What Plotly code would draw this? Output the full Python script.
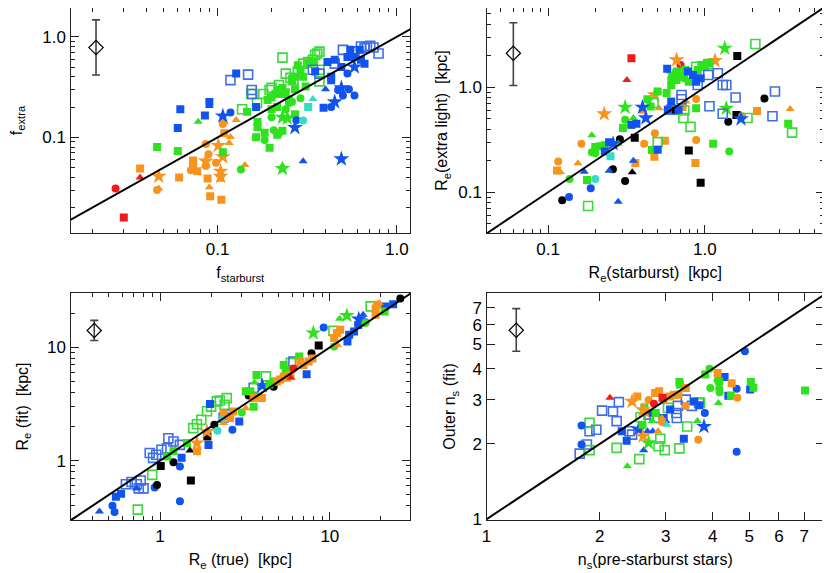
import plotly.graph_objects as go

# ==============================
# DATA
# ==============================

# panel 1: f_starburst vs f_extra
frac_points = {
    "red circle": ([0.027], [0.031]),
    "red triangle": ([0.037], [0.040]),
    "red square": ([0.030], [0.016]),
    "orange circle": ([0.046, 0.071, 0.086, 0.089, 0.086, 0.098, 0.107],
                      [0.030, 0.047, 0.086, 0.068, 0.052, 0.056, 0.136]),
    "orange square": ([0.037, 0.061, 0.073, 0.073, 0.077, 0.088, 0.091, 0.105, 0.109],
                      [0.049, 0.040, 0.059, 0.050, 0.046, 0.039, 0.026, 0.024, 0.11]),
    "orange triangle": ([0.047, 0.090, 0.104, 0.109, 0.127, 0.118, 0.116, 0.142],
                        [0.031, 0.032, 0.038, 0.141, 0.149, 0.101, 0.088, 0.053]),
    "orange star": ([0.047, 0.086, 0.101, 0.107, 0.104, 0.104],
                    [0.041, 0.058, 0.083, 0.064, 0.046, 0.041]),
    "green open": ([0.137, 0.154, 0.166, 0.18, 0.195, 0.2, 0.22, 0.23, 0.24, 0.255,
                    0.265, 0.28, 0.3, 0.32, 0.34, 0.35, 0.36, 0.37, 0.37, 0.37],
                   [0.19, 0.27, 0.22, 0.27, 0.295, 0.31, 0.33, 0.62, 0.43, 0.39,
                    0.37, 0.45, 0.54, 0.56, 0.59, 0.66, 0.68, 0.71, 0.47, 0.36]),
    "green square": ([0.046, 0.060, 0.107, 0.146, 0.164, 0.167, 0.167, 0.183, 0.195, 0.215,
                      0.23, 0.27, 0.19, 0.2, 0.21, 0.22, 0.23, 0.24, 0.25, 0.26,
                      0.27, 0.28, 0.29, 0.3, 0.31, 0.32, 0.34, 0.215, 0.2, 0.23, 0.27],
                     [0.080, 0.073, 0.071, 0.18, 0.10, 0.142, 0.127, 0.111, 0.079, 0.106,
                      0.116, 0.17, 0.235, 0.25, 0.27, 0.295, 0.31, 0.28, 0.235, 0.37,
                      0.4, 0.52, 0.47, 0.4, 0.32, 0.54, 0.56, 0.2, 0.19, 0.27, 0.3]),
    "green circle": ([0.135, 0.183, 0.2, 0.206, 0.22, 0.25, 0.24, 0.26, 0.29],
                     [0.048, 0.094, 0.158, 0.118, 0.11, 0.22, 0.19, 0.226, 0.244]),
    "green triangle": ([0.078, 0.23], [0.143, 0.052]),
    "green star": ([0.23, 0.245, 0.23], [0.158, 0.155, 0.049]),
    "blue open": ([0.118, 0.148, 0.155, 0.156, 0.45, 0.5, 0.58, 0.63, 0.66, 0.68,
                   0.71, 0.74, 0.79, 0.34, 0.37],
                  [0.37, 0.42, 0.295, 0.27, 0.54, 0.74, 0.71, 0.8, 0.77, 0.8,
                   0.81, 0.78, 0.68, 0.47, 0.43]),
    "blue square": ([0.06, 0.062, 0.085, 0.09, 0.127, 0.164, 0.39, 0.41, 0.43, 0.45,
                     0.49, 0.53, 0.55, 0.58, 0.62, 0.63, 0.66, 0.35, 0.43],
                    [0.124, 0.19, 0.165, 0.225, 0.43, 0.2, 0.197, 0.56, 0.4, 0.59,
                     0.5, 0.63, 0.74, 0.63, 0.74, 0.59, 0.54, 0.45, 0.37]),
    "blue circle": ([0.118, 0.275, 0.43, 0.47, 0.5, 0.54, 0.58, 0.53],
                    [0.177, 0.148, 0.2, 0.295, 0.26, 0.3, 0.26, 0.43]),
    "blue triangle": ([0.09, 0.3, 0.4], [0.205, 0.058, 0.3]),
    "blue star": ([0.107, 0.27, 0.49, 0.45, 0.49, 0.58],
                  [0.163, 0.125, 0.061, 0.225, 0.31, 0.5]),
    "cyan triangle": ([0.34], [0.24]),
    "cyan square": ([0.32], [0.2]),
    "cyan circle": ([0.3], [0.147]),
}

# panel 2: Re(starburst) vs Re(extra light)
size_points = {
    "black circle": ([0.123, 0.259, 0.31, 0.287, 1.41, 2.4],
                     [0.084, 0.166, 0.128, 0.32, 0.47, 0.78]),
    "black square": ([0.357, 0.65, 1.59, 1.61, 0.79, 0.94],
                     [0.33, 0.6, 0.545, 1.99, 0.25, 0.123]),
    "black triangle": ([0.344], [0.155]),
    "red square": ([0.34], [1.89]),
    "red triangle": ([0.318], [1.17]),
    "red circle": ([0.70], [1.63]),
    "orange circle": ([0.116, 0.163, 0.41, 0.48, 0.88, 0.88, 1.73],
                      [0.196, 0.29, 0.29, 0.365, 0.774, 0.315, 0.53]),
    "orange square": ([0.114, 0.476, 0.555, 0.36, 0.87, 2.15, 0.72],
                      [0.161, 0.218, 0.31, 0.19, 0.19, 0.595, 0.65]),
    "orange triangle": ([0.12, 0.155, 0.404, 0.51, 0.76, 3.5],
                        [0.155, 0.189, 0.586, 0.63, 0.73, 0.62]),
    "orange star": ([0.228, 0.48, 0.66, 1.16], [0.557, 0.845, 1.82, 1.79]),
    "green open": ([0.18, 0.5, 0.47, 0.73, 0.81, 0.88, 1.05, 2.1, 1.87, 3.6, 0.74],
                   [0.074, 0.3, 0.71, 0.51, 0.42, 1.57, 1.66, 2.58, 0.51, 0.37, 0.6]),
    "green circle": ([0.137, 0.19, 0.2, 0.31, 0.61, 0.67, 0.74, 1.43],
                     [0.134, 0.24, 0.235, 0.49, 1.22, 1.3, 1.22, 0.244]),
    "green square": ([0.177, 0.2, 0.215, 0.23, 0.3, 0.34, 0.43, 0.45, 0.5, 0.57,
                      0.61, 0.66, 0.67, 0.71, 0.75, 0.79, 0.84, 0.9, 0.95, 1.0,
                      1.05, 0.88, 1.13, 3.4, 0.46],
                     [0.131, 0.27, 0.275, 0.28, 0.41, 0.44, 0.77, 0.655, 0.91, 0.88,
                      1.05, 1.17, 1.41, 1.26, 1.46, 1.13, 1.31, 1.46, 1.63, 1.57,
                      1.69, 0.63, 0.29, 0.45, 0.253]),
    "green triangle": ([0.19, 0.28, 0.35], [0.35, 0.29, 0.51]),
    "green star": ([0.31, 0.63, 1.34, 1.37], [0.645, 1.31, 2.35, 0.63]),
    "blue open": ([0.61, 0.71, 0.71, 0.9, 1.05, 1.21, 1.3, 1.37, 1.57, 1.07, 1.3, 2.7, 2.8],
                  [0.61, 0.845, 0.77, 1.05, 1.31, 1.36, 1.05, 1.05, 0.8, 0.66, 0.56, 0.53, 0.91]),
    "blue circle": ([0.136, 0.187], [0.09, 0.109]),
    "blue triangle": ([0.17, 0.245, 0.28, 0.35], [0.157, 0.16, 0.081, 0.2]),
    "blue square": ([0.23, 0.245, 0.34, 0.366, 0.5, 0.575, 0.58, 0.61, 0.68, 0.78,
                     0.84, 0.88, 0.94],
                    [0.245, 0.3, 0.44, 0.45, 0.254, 1.5, 0.61, 0.73, 0.61, 1.41,
                     1.31, 1.13, 1.22]),
    "blue star": ([0.26, 0.42, 0.4, 1.7], [0.29, 0.51, 0.645, 0.5]),
    "cyan square": ([0.25], [0.22]),
    "cyan circle": ([0.2], [0.134]),
}

# panel 3: Re(true) vs Re(fit)
re_points = {
    "green open": ([0.74, 0.9, 1.57, 1.65, 1.75, 1.89, 2.0, 2.16, 2.4, 2.47,
                    4.2, 5.9, 10.5, 17.4, 2.25],
                   [0.37, 0.75, 1.94, 2.1, 2.3, 2.73, 3.0, 3.34, 3.12, 3.57,
                    5.55, 7.3, 14, 23, 3.4]),
    "blue open": ([0.63, 0.68, 0.73, 0.75, 0.8, 0.77, 0.87, 0.91, 0.95, 1.02,
                   1.1, 1.12, 1.2, 1.31, 2.37, 2.47, 3.56, 6.1],
                  [0.62, 0.65, 0.62, 0.57, 0.57, 0.67, 1.17, 1.06, 1.13, 1.25,
                   1.29, 1.58, 1.48, 1.38, 2.41, 2.55, 4.4, 7.5]),
    "blue triangle": ([0.44, 0.73, 15.7], [0.357, 0.57, 19.4]),
    "blue circle": ([0.525, 0.54, 0.93, 1.31, 1.31, 2.67, 9.2, 16.2],
                    [0.4, 0.353, 0.58, 0.89, 0.44, 1.88, 15, 16.7]),
    "blue square": ([0.55, 0.59, 1.34, 1.93, 2.93, 1.97, 7.3, 12.7, 13, 13.9,
                     14.7, 23.6, 21.2],
                    [0.48, 0.51, 1.06, 1.38, 2.22, 3.16, 5.8, 11.3, 12.9, 13.8,
                     15.8, 24, 23]),
    "blue star": ([4.0, 14.8], [4.6, 17.8]),
    "black circle": ([0.96, 1.2, 2.09, 3.33, 4.67, 7.8, 26],
                     [0.61, 0.97, 2.08, 3.77, 4.5, 8.9, 27]),
    "black square": ([1.01, 1.52, 1.9, 8.6], [0.9, 0.67, 1.64, 10.4]),
    "black triangle": ([1.5], [1.23]),
    "green square": ([1.1, 1.2, 1.44, 3.2, 3.4, 3.6, 3.7, 4.4, 4.67, 5.35,
                      5.5, 6.6, 21, 3.56],
                     [1.09, 1.21, 1.43, 4.1, 4.1, 3.7, 5.7, 4.7, 5.0, 7.0,
                      6.3, 8.3, 20.7, 3.0]),
    "green triangle": ([3.6, 11.4], [4.9, 17.9]),
    "green star": ([12.6, 8.0], [19.1, 13.4]),
    "green circle": ([16.2, 10.6, 3.03], [16.4, 10.2, 2.67]),
    "orange square": ([1.65, 2.37, 2.59, 2.7, 3.56, 3.98, 4.88, 5.1, 5.35, 5.6,
                       5.86, 6.7, 7.0, 7.5, 7.9, 11, 11.5, 10.6, 18.6, 18.6, 19],
                      [1.21, 2.63, 2.38, 2.72, 3.57, 3.57, 5.0, 5.2, 5.55, 5.4,
                       5.7, 7.5, 7.0, 7.5, 8.0, 13.4, 14.3, 12.1, 22, 19.4, 23.8]),
    "orange star": ([1.65, 1.89], [1.43, 1.81]),
    "orange triangle": ([2.37, 3.2, 11.1, 19.5, 5.1], [2.15, 2.9, 10.5, 24.6, 5.3]),
    "red circle": ([6.1], [6.5]),
    "red triangle": ([5.9], [5.4]),
    "cyan circle": ([2.18], [1.84]),
    "cyan triangle": ([2.3], [2.35]),
}

# panel 4: n_s(pre-starburst stars) vs outer n_s(fit)
ns_points = {
    "blue open": ([1.77, 1.85, 1.88, 1.96, 2.03, 2.17, 2.22, 2.25, 2.4, 2.44,
                   2.7, 2.8, 3.2, 3.21, 3.23, 3.39, 3.52, 3.68],
                  [1.83, 1.99, 2.25, 2.28, 2.72, 2.7, 2.47, 2.94, 2.25, 2.18,
                   2.62, 2.54, 2.66, 2.54, 2.84, 3.01, 2.84, 2.92]),
    "green open": ([1.88, 1.88, 2.22, 2.55, 2.57, 2.9, 2.87, 2.98, 3.04, 3.26, 3.42, 3.7],
                   [2.43, 1.89, 1.93, 1.74, 2.56, 2.1, 1.96, 1.89, 2.79, 1.92, 2.35, 2.92]),
    "blue circle": ([1.79, 1.79, 2.75, 3.81, 4.63, 4.63, 4.87],
                    [2.37, 1.99, 2.66, 2.66, 3.33, 1.86, 4.7]),
    "blue square": ([2.29, 2.36, 2.96, 3.08, 3.35, 3.57, 3.68, 4.3, 4.4, 5.03],
                    [2.25, 2.06, 2.54, 2.75, 2.1, 2.96, 2.86, 3.71, 3.12, 3.3]),
    "blue star": ([2.54, 3.79], [2.29, 2.35]),
    "blue triangle": ([2.62, 2.68, 2.77, 3.0], [1.89, 2.25, 2.25, 2.47]),
    "green triangle": ([2.37, 2.76, 3.64, 4.14], [1.63, 2.47, 2.47, 2.92]),
    "green star": ([2.7], [2.02]),
    "green square": ([2.63, 2.82, 2.6, 3.26, 3.27, 3.82, 4.16, 4.47, 5.05, 5.13, 7.04],
                     [2.8, 2.66, 2.39, 3.54, 3.46, 3.79, 3.56, 3.12, 3.54, 3.36, 3.27]),
    "green circle": ([3.92, 3.94, 4.16, 4.17, 4.12], [4.0, 3.35, 3.33, 3.22, 3.6]),
    "orange star": ([2.44, 2.61, 2.64, 2.61], [2.96, 2.74, 2.7, 2.15]),
    "orange square": ([2.52, 2.81, 2.88, 2.96, 3.08, 3.15, 3.24, 3.39, 4.12, 4.49],
                      [3.1, 3.2, 3.25, 3.0, 3.1, 3.15, 3.15, 3.35, 3.85, 3.5]),
    "orange circle": ([2.7, 2.93, 3.39, 3.66, 4.65], [3.0, 2.45, 2.84, 2.08, 3.06]),
    "orange triangle": ([2.93, 2.86], [2.54, 2.25]),
    "red triangle": ([2.13], [3.06]),
    "red circle": ([2.79], [2.9]),
    "red square": ([2.94], [3.06]),
    "cyan triangle": ([3.02], [2.39]),
}

# typical error bar (diamond): x, y, upper, lower
frac_err = (0.021, 0.78, 1.47, 0.417)
size_err = (0.06, 2.11, 4.12, 1.04)
re_err = (0.41, 14.1, 17.3, 11.5)
ns_err = (1.2, 5.7, 6.96, 4.7)

# ==============================
# STYLE
# ==============================

COLORS = {
    "red": "#EE1B1B", "orange": "#F7941D", "green": "#2EE21E",
    "blue": "#1053F0", "black": "#000000", "cyan": "#36DCC6",
}
OPEN_COLORS = {"green": "#3CD83C", "blue": "#3E6EE8"}
SYMBOLS = {"circle": "circle", "square": "square", "triangle": "triangle-up",
           "star": "star", "open": "square-open"}
SIZES = {"circle": 8, "square": 8, "triangle": 8, "star": 12, "open": 9}

FONT = "Liberation Sans, Arial, sans-serif"

# the page body puts the plot 8px in from the window corner
PAGE_OFFSET = 8
W, H = 830, 573


def dom_x(left, right):
    return [(left - PAGE_OFFSET) / W, (right - PAGE_OFFSET) / W]


def dom_y(top, bottom):
    return [1 - (bottom - PAGE_OFFSET) / H, min(1.0, 1 - (top - PAGE_OFFSET) / H)]


fig = go.Figure()


def add_panel(points, err, n):
    xa = "x" if n == 1 else "x%d" % n
    ya = "y" if n == 1 else "y%d" % n
    for kind, (xs, ys) in points.items():
        colour, shape = kind.split()
        if shape == "open":
            marker = dict(symbol="square-open", size=SIZES[shape],
                          color=OPEN_COLORS[colour], line=dict(width=1.6))
        else:
            marker = dict(symbol=SYMBOLS[shape], size=SIZES[shape],
                          color=COLORS[colour], line=dict(width=0))
        fig.add_trace(go.Scatter(x=xs, y=ys, mode="markers", marker=marker,
                                 xaxis=xa, yaxis=ya, showlegend=False))
    ex, ey, up, lo = err
    fig.add_trace(go.Scatter(
        x=[ex], y=[ey], mode="markers",
        marker=dict(symbol="diamond-open", size=11, color="black", line=dict(width=1.2)),
        error_y=dict(type="data", symmetric=False, array=[up - ey], arrayminus=[ey - lo],
                     color="#444444", thickness=1.6, width=4),
        xaxis=xa, yaxis=ya, showlegend=False))


add_panel(frac_points, frac_err, 1)
add_panel(size_points, size_err, 2)
add_panel(re_points, re_err, 3)
add_panel(ns_points, ns_err, 4)


def log_axis(rng, major, labels, minor, title, domain, anchor, standoff):
    return dict(
        type="log", range=rng, domain=domain, anchor=anchor, automargin=False,
        tickmode="array", tickvals=major, ticktext=labels,
        ticks="inside", ticklen=8, tickwidth=1, tickcolor="#222",
        mirror="allticks", showline=True, linecolor="#222", linewidth=1.3,
        showgrid=False, zeroline=False,
        tickfont=dict(family=FONT, size=17, color="black"),
        minor=dict(tickmode="array", tickvals=minor, ticks="inside", ticklen=4,
                   tickwidth=1, tickcolor="#222", showgrid=False),
        title=dict(text=title, font=dict(family=FONT, size=16, color="black"),
                   standoff=standoff),
    )


digits = [2, 3, 4, 5, 6, 7, 8, 9]
m_001 = [d * 0.01 for d in digits]
m_01 = [d * 0.1 for d in digits]
m_1 = [float(d) for d in digits]
m_10 = [d * 10.0 for d in digits]

# axis ranges (log10)
ranges = {
    1: ([-1.82, 0.073], [-1.95, 0.285]),
    2: ([-1.393, 0.76], [-1.388, 0.755]),
    3: ([-0.527, 1.472], [-0.523, 1.48]),
    4: ([0.0, 0.898], [-0.003, 0.905]),
}

# one-to-one reference line spans each panel's range
for n, (rx, ry) in ranges.items():
    lo = 10 ** min(rx[0], ry[0])
    hi = 10 ** max(rx[1], ry[1])
    fig.add_trace(go.Scatter(
        x=[lo, hi], y=[lo, hi], mode="lines", line=dict(color="black", width=2),
        xaxis="x" if n == 1 else "x%d" % n, yaxis="y" if n == 1 else "y%d" % n,
        showlegend=False, cliponaxis=True))

ns_ticks = [1, 2, 3, 4, 5, 6, 7]

fig.update_layout(
    width=W, height=H, autosize=False,
    margin=dict(l=0, r=0, t=0, b=0),
    paper_bgcolor="white", plot_bgcolor="white",
    font=dict(family=FONT, color="black"),
    xaxis=log_axis(ranges[1][0], [0.1, 1.0], ["0.1", "1.0"], m_001 + m_01,
                   "f<sub>starburst</sub>", dom_x(70.5, 410), "y", 9),
    yaxis=log_axis(ranges[1][1], [0.1, 1.0], ["0.1", "1.0"], m_001 + m_01 + [2.0],
                   "f<sub>extra</sub>", dom_y(6, 233), "x", 22),
    xaxis2=log_axis(ranges[2][0], [0.1, 1.0], ["0.1", "1.0"], m_001[3:] + m_01 + m_1[:4],
                    "R<sub>e</sub>(starburst)  [kpc]", dom_x(486.5, 824), "y2", 9),
    yaxis2=log_axis(ranges[2][1], [0.1, 1.0], ["0.1", "1.0"], m_001[3:] + m_01 + m_1[:4],
                    "R<sub>e</sub>(extra light)  [kpc]", dom_y(7, 233), "x2", 6),
    xaxis3=log_axis(ranges[3][0], [1, 10], ["1", "10"], m_01[1:] + m_1 + m_10[:1],
                    "R<sub>e</sub> (true)  [kpc]", dom_x(70.5, 410), "y3", 9),
    yaxis3=log_axis(ranges[3][1], [1, 10], ["1", "10"], m_01[1:] + m_1 + m_10[:2],
                    "R<sub>e</sub> (fit)  [kpc]", dom_y(293, 520), "x3", 14),
    xaxis4=log_axis(ranges[4][0], ns_ticks, [str(t) for t in ns_ticks], [],
                    "n<sub>s</sub>(pre-starburst stars)", dom_x(486.5, 824), "y4", 9),
    yaxis4=log_axis(ranges[4][1], ns_ticks, [str(t) for t in ns_ticks], [],
                    "Outer n<sub>s</sub> (fit)", dom_y(293, 520), "x4", 12),
)

fig.write_html("out.html")
